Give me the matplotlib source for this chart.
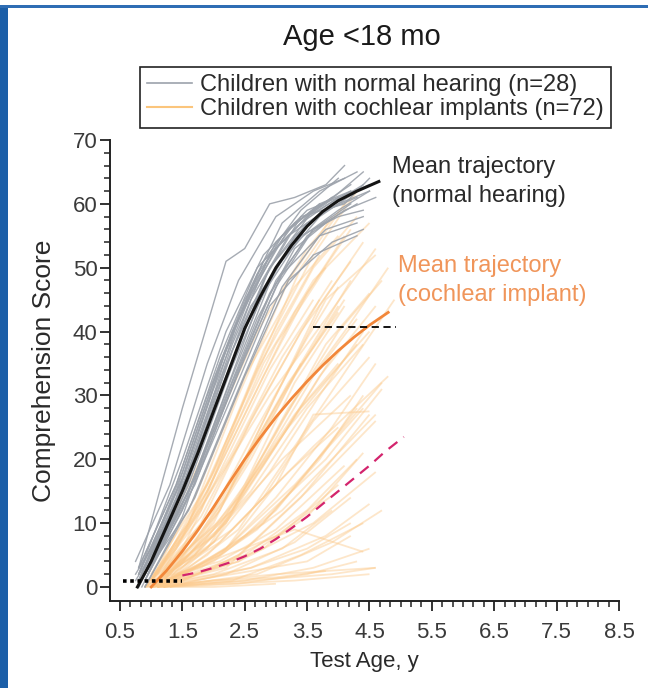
""" Comprehension score trajectories, age <18 mo """
import matplotlib
matplotlib.use('Agg')
import matplotlib.pyplot as plt
from matplotlib.lines import Line2D
from matplotlib.patches import Rectangle

plt.rcParams['font.family'] = ['Liberation Sans', 'DejaVu Sans']

# individual children with normal hearing (age in years, score)
nh_ages = [
    [0.8, 1.5, 2.2, 2.5, 2.9, 3.3, 3.8, 4.1],
    [0.75, 1.3, 1.9, 2.4, 3.0, 3.6, 4.1],
    [0.8, 1.4, 2.0, 2.6, 3.1, 3.7, 4.3],
    [0.9, 1.5, 2.1, 2.7, 3.3, 3.9, 4.4],
    [0.8, 1.6, 2.3, 2.9, 3.5, 4.2],
    [0.85, 1.4, 2.0, 2.6, 3.2, 3.8, 4.3],
    [0.9, 1.6, 2.2, 2.9, 3.5, 4.0, 4.5],
    [0.8, 1.5, 2.1, 2.8, 3.4, 4.0, 4.4],
    [0.9, 1.7, 2.4, 3.0, 3.6, 4.2],
    [0.75, 1.3, 1.8, 2.4, 3.0, 3.5, 4.0],
    [0.8, 1.5, 2.2, 2.8, 3.3, 3.9],
    [1.0, 1.7, 2.3, 2.9, 3.5, 4.1, 4.6],
    [0.85, 1.6, 2.3, 3.0, 3.7, 4.3],
    [0.9, 1.5, 2.0, 2.7, 3.3, 3.8],
    [0.8, 1.4, 2.1, 2.7, 3.4, 4.0, 4.5],
    [0.95, 1.8, 2.5, 3.1, 3.8, 4.4],
    [0.8, 1.5, 2.2, 2.8, 3.4, 4.0],
    [0.9, 1.6, 2.4, 3.1, 3.7, 4.3],
    [0.8, 1.4, 2.0, 2.6, 3.2, 3.7],
    [0.75, 1.3, 2.0, 2.6, 3.3, 4.0, 4.5],
    [1.0, 1.7, 2.3, 2.9, 3.6, 4.2],
    [0.85, 1.5, 2.2, 3.0, 3.6, 4.3],
    [0.9, 1.6, 2.2, 2.8, 3.4, 4.1, 4.5],
    [0.8, 1.5, 2.3, 3.0, 3.5, 3.9],
    [0.9, 1.7, 2.5, 3.2, 3.9, 4.4],
    [0.8, 1.4, 1.9, 2.5, 3.1, 3.7, 4.2],
    [0.95, 1.6, 2.3, 2.9, 3.6, 4.3],
    [0.8, 1.5, 2.1, 2.7, 3.3, 3.8, 4.4],
]
nh_scores = [
    [3, 28, 51, 53, 60, 61, 63, 66],
    [4, 16, 35, 48, 58, 62, 64],
    [2, 15, 32, 47, 57, 62, 65],
    [1, 12, 28, 44, 55, 60, 63],
    [0, 18, 38, 52, 58, 62],
    [2, 13, 29, 45, 55, 59, 61],
    [3, 18, 33, 50, 57, 60, 62],
    [0, 14, 30, 46, 55, 58, 59],
    [2, 16, 34, 48, 56, 60],
    [1, 10, 24, 42, 54, 59, 61],
    [2, 20, 40, 52, 57, 61],
    [4, 17, 32, 46, 55, 59, 61],
    [1, 15, 33, 50, 58, 62],
    [0, 11, 25, 42, 53, 57],
    [3, 16, 36, 50, 57, 61, 63],
    [2, 19, 36, 49, 56, 58],
    [1, 17, 37, 51, 59, 64],
    [2, 12, 31, 47, 55, 57],
    [1, 14, 31, 46, 56, 60],
    [2, 11, 30, 44, 54, 59, 62],
    [3, 20, 37, 50, 59, 63],
    [0, 13, 29, 47, 56, 60],
    [1, 16, 32, 48, 58, 60, 64],
    [2, 17, 40, 53, 58, 61],
    [0, 14, 33, 48, 54, 56],
    [3, 16, 30, 45, 55, 60, 62],
    [2, 14, 30, 44, 52, 55],
    [1, 18, 35, 49, 57, 60, 65],
]

# individual children with cochlear implants
ci_ages = [
    [1.0, 1.8, 2.6, 3.4, 4.1], [0.9, 1.6, 2.4, 3.2, 3.9],
    [1.1, 2.0, 2.8, 3.6, 4.3], [1.0, 1.7, 2.5, 3.3, 4.0],
    [1.2, 2.0, 2.9, 3.7, 4.4], [0.9, 1.8, 2.7, 3.5, 4.2],
    [1.0, 1.9, 2.8, 3.6, 4.5], [1.1, 2.1, 3.0, 3.8, 4.6],
    [1.0, 2.0, 3.0, 3.8, 4.5], [1.1, 2.2, 3.1, 4.0, 4.7],
    [1.2, 2.1, 3.0, 3.9], [0.9, 1.9, 2.8, 3.6, 4.3],
    [1.0, 2.3, 3.2, 4.1, 4.8], [1.1, 2.0, 2.9, 3.7, 4.4],
    [1.3, 2.2, 3.1, 4.0], [1.0, 1.8, 2.6, 3.4, 4.2],
    [1.2, 2.4, 3.3, 4.2, 4.9], [1.0, 2.0, 2.7, 3.5, 4.0],
    [0.9, 1.7, 2.5, 3.3, 4.1], [1.1, 2.1, 3.2, 4.3],
    [1.0, 1.9, 2.9, 3.8, 4.6], [1.2, 2.3, 3.4, 4.5],
    [1.0, 2.0, 3.0, 4.0, 4.7], [1.1, 2.2, 3.3, 4.4],
    [1.2, 2.1, 3.0, 3.9, 4.6], [0.9, 2.0, 3.1, 4.2],
    [1.0, 2.2, 3.4, 4.5], [1.3, 2.4, 3.5, 4.6],
    [1.0, 1.9, 2.8, 3.7, 4.4], [1.1, 2.3, 3.6, 4.8],
    [1.2, 2.2, 3.0, 3.6, 4.5], [1.0, 2.1, 3.2, 4.0],
    [0.9, 1.8, 2.7, 3.5, 4.3], [1.2, 2.5, 3.8, 4.7],
    [1.0, 2.0, 3.0, 4.0], [1.1, 2.4, 3.6, 4.6],
    [1.2, 2.2, 3.3, 4.2], [1.0, 2.5, 3.5, 4.3],
    [0.9, 2.0, 3.1, 3.9], [1.3, 2.6, 3.8, 4.5],
    [1.0, 2.1, 3.0, 4.1], [1.1, 2.3, 3.4, 4.4],
    [1.2, 2.8, 4.0], [1.0, 2.6, 3.5, 4.2],
    [1.0, 2.0, 3.0, 4.6], [1.1, 2.2, 3.3, 4.5],
    [0.9, 2.0, 3.0], [1.2, 2.5, 3.6, 4.5],
    [1.0, 2.3, 3.5, 4.2], [1.3, 2.4, 3.5, 4.3],
    [1.0, 2.0, 3.0, 3.8], [1.1, 2.6, 3.9, 4.6],
    [1.0, 2.2, 3.3, 4.4], [0.9, 1.5, 2.2, 3.0, 3.8],
    [1.0, 1.6, 2.3, 3.1, 3.9], [1.0, 1.7, 2.4, 3.2, 4.0],
    [0.9, 1.6, 2.3, 3.0, 3.7], [1.1, 1.8, 2.5, 3.3, 4.1],
    [1.0, 1.5, 2.1, 2.9, 3.6], [1.2, 1.9, 2.6, 3.4, 4.2],
    [1.0, 1.8, 2.6, 3.5, 4.4], [0.9, 1.7, 2.5, 3.4],
    [1.1, 1.9, 2.8, 3.6, 4.5], [1.0, 1.6, 2.4, 3.3, 4.0],
    [1.2, 2.0, 2.8, 3.7, 4.6], [1.0, 1.8, 2.7, 3.7],
    [0.9, 1.4, 2.0, 2.8, 3.5, 4.2], [1.1, 1.7, 2.5, 3.3, 4.1],
    [1.0, 2.4, 3.5, 4.4], [1.2, 2.7, 3.9, 4.7],
    [1.0, 1.9, 2.7, 3.6, 4.3], [1.1, 2.1, 3.1, 4.1, 4.6],
]
ci_scores = [
    [1, 12, 32, 50, 60], [0, 10, 30, 48, 58],
    [2, 18, 37, 52, 62], [1, 14, 33, 47, 55],
    [0, 10, 28, 44, 54], [2, 20, 40, 53, 61],
    [1, 15, 35, 48, 57], [0, 12, 30, 45, 52],
    [0, 8, 24, 38, 46], [1, 10, 26, 40, 48],
    [0, 9, 22, 36], [0, 6, 20, 33, 42],
    [1, 12, 28, 40, 50], [0, 7, 18, 30, 40],
    [2, 14, 30, 44], [0, 10, 26, 40, 51],
    [0, 9, 22, 35, 45], [1, 12, 25, 39, 47],
    [0, 5, 16, 32, 44], [0, 10, 25, 38],
    [1, 14, 30, 42, 53], [1, 12, 28, 40],
    [0, 4, 12, 24, 32], [0, 6, 16, 28],
    [1, 5, 14, 25, 35], [0, 8, 20, 30],
    [0, 3, 14, 27], [0, 5, 15, 26],
    [0, 4, 10, 20, 30], [1, 9, 22, 33],
    [0, 6, 16, 27, 27.5], [0, 7, 18, 25],
    [0, 3, 9, 18, 28], [0, 8, 20, 31],
    [0, 3, 8, 15], [0, 4, 10, 18],
    [0, 2, 7, 14], [0, 5, 12, 20],
    [0, 2, 6, 12], [0, 3, 8, 13],
    [1, 4, 9, 19], [0, 1, 5, 10],
    [0, 6, 16], [0, 3, 6, 10],
    [0, 1, 2, 3], [0, 0.5, 1, 2],
    [0, 0, 0.5], [0, 1, 3, 6],
    [0, 2, 4, 8], [0, 0.5, 2, 4],
    [0, 1, 1.5, 2.5], [0, 1, 2, 3],
    [0, 5, 9, 5.5], [0, 8, 22, 38, 50],
    [1, 9, 21, 36, 48], [0, 7, 18, 32, 43],
    [0, 10, 25, 40, 52], [1, 8, 19, 33, 45],
    [0, 6, 18, 34, 45], [1, 9, 20, 35, 48],
    [0, 6, 15, 28, 38], [0, 8, 20, 35],
    [0, 5, 14, 26, 36], [0, 5, 14, 27, 35],
    [0, 7, 19, 33, 44], [1, 11, 28, 45],
    [0, 6, 17, 33, 46, 56], [1, 11, 27, 43, 55],
    [0, 4, 11, 21], [0, 2, 7, 12],
    [2, 16, 34, 50, 58], [0, 5, 12, 22, 27],
]

# mean trajectories
nh_mean_age = [0.78, 1.0, 1.25, 1.5, 1.75, 2.0, 2.25, 2.5, 2.75, 3.0, 3.25,
               3.5, 3.75, 4.0, 4.3, 4.65]
nh_mean = [0, 4, 9.5, 15, 21, 27.5, 34, 40.5, 45.5, 50, 53.5, 56.5, 58.8,
           60.5, 62, 63.5]
ci_mean_age = [1.0, 1.25, 1.5, 1.75, 2.0, 2.25, 2.5, 2.75, 3.0, 3.25, 3.5,
               3.75, 4.0, 4.25, 4.5, 4.8]
ci_mean = [0, 2.6, 5.6, 8.9, 12.5, 16.3, 20.0, 23.4, 26.6, 29.5, 32.2, 34.7,
           37.0, 39.1, 41.0, 43]
low_age = [1.5, 1.75, 2.0, 2.25, 2.5, 2.75, 3.0, 3.25, 3.5, 3.75, 4.0, 4.25,
           4.5, 4.75, 5.05]
low_mean = [1.8, 2.3, 3, 3.8, 4.8, 6, 7.5, 9.2, 11, 13, 15, 17, 19, 21.2, 23.5]
floor_age = [0.55, 1.5]
floor_score = [1, 1]
ref_age = [3.59, 4.92]
ref_score = [40.7, 40.7]

GRAY = '#9ca2ab'
ORANGE = '#fcc98a'

fig = plt.figure(figsize=(6.48, 6.88), dpi=100)
ax = fig.add_axes([110 / 648, 1 - 601 / 688, 509 / 648, 461 / 688])

for a, s in zip(ci_ages, ci_scores):
    ax.plot(a, s, color=ORANGE, lw=1.3, alpha=0.45, solid_capstyle='butt')
for a, s in zip(nh_ages, nh_scores):
    ax.plot(a, s, color=GRAY, lw=1.0, alpha=0.9)

ax.plot(nh_mean_age, nh_mean, color='#151515', lw=2.2)
ax.plot(ci_mean_age, ci_mean, color='#f2873a', lw=2.0)
ax.plot(low_age, low_mean, color='#d3246d', lw=1.6, dashes=(5, 3.5))
ax.plot(floor_age, floor_score, color='black', lw=2.6, dashes=(1, 1))
ax.plot(ref_age, ref_score, color='black', lw=1.3, dashes=(4, 2.5))

ax.text(4.86, 67.5, 'Mean trajectory\n(normal hearing)', fontsize=17,
        color='#2a2a2a', va='top', ha='left', linespacing=1.4)
ax.text(4.95, 52.0, 'Mean trajectory\n(cochlear implant)', fontsize=17,
        color='#f0955a', va='top', ha='left', linespacing=1.4)

ax.set_xlim(0.34, 8.5)
ax.set_ylim(-2.2, 70)
ax.set_xticks([0.5 + i for i in range(9)])
ax.set_xticklabels(['%.1f' % (0.5 + i) for i in range(9)])
ax.set_xticks([0.5 + i / 6 for i in range(49)], minor=True)
ax.set_yticks(range(0, 71, 10))
ax.set_yticks(range(0, 71, 2), minor=True)
ax.spines['top'].set_visible(False)
ax.spines['right'].set_visible(False)
ax.spines['left'].set_bounds(-2.2, 70)
ax.spines['bottom'].set_bounds(0.34, 8.5)
for sp in ('left', 'bottom'):
    ax.spines[sp].set_linewidth(1.4)
    ax.spines[sp].set_color('#222222')
ax.tick_params(which='major', length=7, width=1.3, color='#222222',
               labelsize=16, labelcolor='#3a3a3a')
ax.tick_params(which='minor', length=4, width=1.1, color='#222222')
ax.tick_params(axis='x', which='major', pad=8)
ax.tick_params(axis='y', which='major', pad=2)
ax.set_xlabel('Test Age, y', fontsize=16, color='#2a2a2a', labelpad=6)
ax.set_ylabel('Comprehension Score', fontsize=19, color='#2a2a2a',
              labelpad=12)

fig.text(362 / 648, 1 - 37 / 688, 'Age <18 mo', fontsize=21, ha='center',
         va='center', color='#1a1a1a')

handles = [Line2D([], [], color=GRAY, lw=1.2),
           Line2D([], [], color='#fbc57c', lw=1.5)]
labels = ['Children with normal hearing (n=28)',
          'Children with cochlear implants (n=72)']
leg = fig.legend(handles, labels, loc='upper left',
                 bbox_to_anchor=(140 / 648, 1 - 67 / 688), fontsize=17,
                 frameon=True, fancybox=False, framealpha=1,
                 edgecolor='#222222', borderaxespad=0, borderpad=0.3,
                 labelspacing=0.1, handlelength=1.9, handletextpad=0.35)
leg.get_frame().set_linewidth(1.2)
for t in leg.get_texts():
    t.set_color('#2a2a2a')

# page border of the source figure
fig.add_artist(Rectangle((0, 0), 8 / 648, 1 - 5 / 688,
                         transform=fig.transFigure, color='#1c5fa8', lw=0))
fig.add_artist(Rectangle((0, 1 - 8 / 688), 1, 3 / 688,
                         transform=fig.transFigure, color='#2e6db4', lw=0))

fig.savefig('out.png', dpi=100)
